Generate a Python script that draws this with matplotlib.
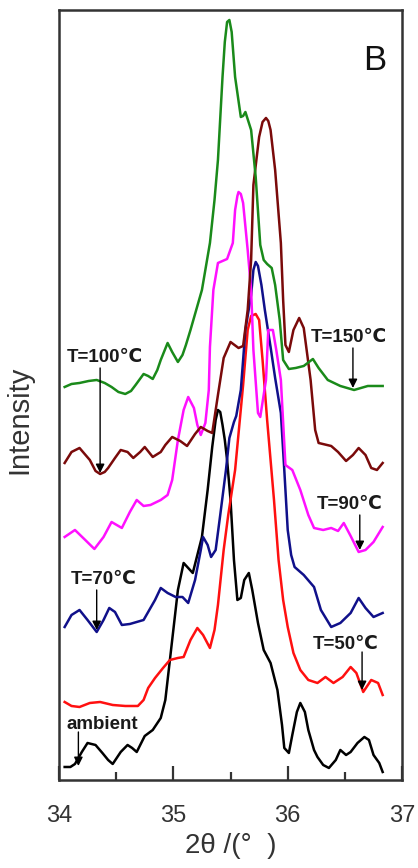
import matplotlib
matplotlib.use("Agg")
import matplotlib.pyplot as plt

plt.rcParams['font.family'] = ['Liberation Sans', 'DejaVu Sans']

# 2theta (deg) and stacked intensity (a.u.) for each temperature
t150_x = [34.05, 34.11, 34.18, 34.26, 34.33, 34.40, 34.46, 34.52, 34.58, 34.63, 34.67, 34.74,
          34.78, 34.82, 34.86, 34.89, 34.95, 34.99, 35.04, 35.08, 35.11, 35.15, 35.20, 35.25,
          35.32, 35.36, 35.39, 35.43, 35.45, 35.47, 35.49, 35.51, 35.54, 35.59, 35.61, 35.63,
          35.68, 35.72, 35.76, 35.79, 35.82, 35.86, 35.89, 35.93, 35.96, 36.01, 36.07, 36.14,
          36.22, 36.27, 36.35, 36.46, 36.58, 36.70, 36.83]
t150_y = [393, 396, 397, 399, 400, 397, 393, 388, 386, 389, 395, 406,
          404, 401, 410, 420, 437, 428, 418, 425, 435, 450, 470, 490,
          537, 580, 620, 703, 738, 758, 760, 748, 703, 663, 664, 668,
          650, 603, 535, 520, 516, 512, 495, 460, 420, 411, 412, 414,
          421, 412, 400, 394, 390, 394, 394]

t100_x = [34.05, 34.11, 34.18, 34.27, 34.32, 34.36, 34.40, 34.43, 34.49, 34.54, 34.60, 34.65,
          34.71, 34.75, 34.82, 34.89, 34.93, 34.99, 35.06, 35.12, 35.19, 35.24, 35.30, 35.34,
          35.39, 35.44, 35.50, 35.57, 35.61, 35.65, 35.68, 35.70, 35.75, 35.78, 35.81, 35.83,
          35.85, 35.89, 35.94, 35.96, 35.98, 36.01, 36.05, 36.10, 36.14, 36.20, 36.24, 36.27,
          36.38, 36.44, 36.51, 36.57, 36.62, 36.68, 36.73, 36.78, 36.83]
t100_y = [317, 328, 332, 320, 309, 306, 308, 312, 322, 330, 328, 322,
          328, 333, 323, 328, 335, 343, 339, 334, 346, 353, 349, 347,
          385, 422, 438, 432, 434, 470, 520, 595, 643, 658, 662, 659,
          650, 610, 537, 480, 435, 428, 450, 462, 452, 400, 350, 337,
          334, 328, 319, 325, 332, 325, 312, 310, 317]

t90_x = [34.05, 34.14, 34.23, 34.31, 34.39, 34.46, 34.55, 34.62, 34.68, 34.74, 34.80, 34.89,
         34.95, 34.99, 35.04, 35.09, 35.13, 35.18, 35.21, 35.24, 35.28, 35.31, 35.32, 35.35,
         35.39, 35.47, 35.52, 35.54, 35.56, 35.57, 35.59, 35.61, 35.65, 35.68, 35.70, 35.74,
         35.76, 35.81, 35.83, 35.87, 35.90, 35.94, 35.98, 36.04, 36.11, 36.18, 36.23, 36.31,
         36.38, 36.44, 36.49, 36.55, 36.62, 36.68, 36.75, 36.83]
t90_y = [243, 250, 240, 231, 243, 258, 252, 268, 280, 274, 275, 280,
         285, 300, 340, 370, 383, 372, 355, 345, 357, 390, 433, 490,
         517, 521, 537, 570, 584, 588, 586, 577, 530, 490, 430, 367,
         363, 400, 450, 450, 430, 400, 315, 310, 290, 265, 252, 250,
         252, 249, 257, 244, 228, 230, 238, 253]

t70_x = [34.05, 34.11, 34.18, 34.25, 34.33, 34.39, 34.44, 34.49, 34.55, 34.62, 34.68, 34.74,
         34.78, 34.84, 34.89, 34.95, 35.02, 35.08, 35.13, 35.19, 35.24, 35.26, 35.30, 35.33,
         35.37, 35.41, 35.46, 35.49, 35.53, 35.55, 35.59, 35.63, 35.68, 35.70, 35.72, 35.74,
         35.77, 35.80, 35.85, 35.89, 35.94, 35.97, 36.00, 36.03, 36.06, 36.14, 36.23, 36.29,
         36.38, 36.46, 36.55, 36.62, 36.68, 36.75, 36.83]
t70_y = [153, 165, 170, 160, 148, 160, 172, 168, 155, 156, 158, 160,
         168, 180, 192, 187, 183, 183, 177, 200, 230, 243, 235, 223,
         230, 265, 310, 342, 358, 364, 390, 450, 485, 510, 518, 514,
         495, 470, 433, 402, 367, 310, 250, 225, 213, 205, 193, 170,
         153, 157, 167, 182, 172, 163, 167]

t50_x = [34.05, 34.11, 34.18, 34.27, 34.36, 34.47, 34.58, 34.69, 34.74, 34.78, 34.84, 34.91,
         34.97, 35.04, 35.09, 35.15, 35.21, 35.26, 35.32, 35.36, 35.39, 35.44, 35.48, 35.54,
         35.61, 35.65, 35.68, 35.72, 35.75, 35.78, 35.82, 35.88, 35.92, 35.96, 36.00, 36.05,
         36.11, 36.18, 36.26, 36.33, 36.40, 36.48, 36.55, 36.60, 36.66, 36.73, 36.79, 36.83]
t50_y = [78, 74, 73, 77, 78, 75, 74, 74, 80, 92, 102, 112,
         120, 122, 123, 140, 152, 145, 132, 150, 175, 230, 265, 310,
         395, 450, 464, 466, 460, 420, 360, 280, 220, 180, 153, 127,
         110, 100, 97, 103, 97, 103, 113, 107, 88, 100, 97, 85]

amb_x = [34.05, 34.10, 34.14, 34.20, 34.25, 34.32, 34.38, 34.43, 34.47, 34.54, 34.60, 34.64,
         34.68, 34.75, 34.82, 34.89, 34.93, 34.97, 35.01, 35.04, 35.09, 35.13, 35.17, 35.21,
         35.25, 35.30, 35.34, 35.37, 35.39, 35.41, 35.43, 35.45, 35.47, 35.50, 35.53, 35.56,
         35.59, 35.62, 35.66, 35.69, 35.74, 35.79, 35.85, 35.91, 35.95, 35.97, 36.01, 36.04,
         36.08, 36.11, 36.15, 36.18, 36.23, 36.26, 36.31, 36.36, 36.42, 36.46, 36.51, 36.55,
         36.61, 36.67, 36.71, 36.75, 36.80, 36.83]
amb_y = [13, 13, 16, 28, 37, 35, 27, 20, 16, 28, 35, 32,
         28, 44, 50, 62, 80, 120, 160, 190, 217, 212, 207, 225,
         243, 290, 333, 360, 370, 368, 355, 340, 320, 280, 220, 180,
         182, 200, 207, 190, 157, 130, 117, 90, 55, 32, 27, 45,
         68, 77, 68, 50, 30, 23, 15, 12, 20, 30, 25, 28,
         37, 43, 40, 25, 17, 8]

curves = [
    (amb_x, amb_y, 'black'),
    (t50_x, t50_y, '#ff1010'),
    (t70_x, t70_y, '#10108a'),
    (t90_x, t90_y, '#ff10ff'),
    (t100_x, t100_y, '#7a0a0a'),
    (t150_x, t150_y, '#1a8a1a'),
]

# label text, text anchor (x, y), arrow x, arrow tail y, arrow tip y
labels = [
    ('T=150\u2103', 36.20, 442, 36.57, 432, 392),
    ('T=100\u2103', 34.07, 422, 34.36, 412, 307),
    ('T=90\u2103', 36.25, 275, 36.63, 265, 230),
    ('T=70\u2103', 34.10, 200, 34.33, 190, 150),
    ('T=50\u2103', 36.22, 135, 36.65, 128, 90),
    ('ambient', 34.07, 55, 34.17, 48, 14),
]

fig = plt.figure(figsize=(4.18, 8.68), dpi=100)
ax = fig.add_axes([0.141, 0.1014, 0.821, 0.8871])

for xs, ys, c in curves:
    ax.plot(xs, ys, color=c, lw=1.8, solid_joinstyle='round')

for text, tx, ty, arr_x, y0, y1 in labels:
    ax.text(tx, ty, text, fontsize=13.5, fontweight='bold', color='#1a1a1a',
            ha='left', va='center')
    ax.annotate('', xy=(arr_x, y1), xytext=(arr_x, y0),
                arrowprops=dict(arrowstyle='-|>', color='black', lw=1.0,
                                mutation_scale=13, shrinkA=0, shrinkB=0))

ax.text(0.921, 0.935, 'B', transform=ax.transAxes, fontsize=25,
        ha='center', va='center', color='#111111')

ax.set_xlim(34, 37)
ax.set_ylim(0, 770)
ax.set_xticks([34, 35, 36, 37])
ax.set_xticks([34.5, 35.5, 36.5], minor=True)
ax.set_yticks([])
ax.tick_params(axis='x', which='major', direction='in', length=10, width=1.6,
               labelsize=17, pad=18, colors='#333333')
ax.tick_params(axis='x', which='minor', direction='in', length=6, width=1.6,
               colors='#333333')
for s in ax.spines.values():
    s.set_linewidth(1.8)
    s.set_color('#333333')

ax.set_xlabel('2\u03b8 /(\u00b0  )', fontsize=20, color='#333333', labelpad=4)
ax.set_ylabel('Intensity', fontsize=21, color='#333333')
ax.yaxis.set_label_coords(-0.075, 0.468)

fig.savefig('out.png', dpi=100)
